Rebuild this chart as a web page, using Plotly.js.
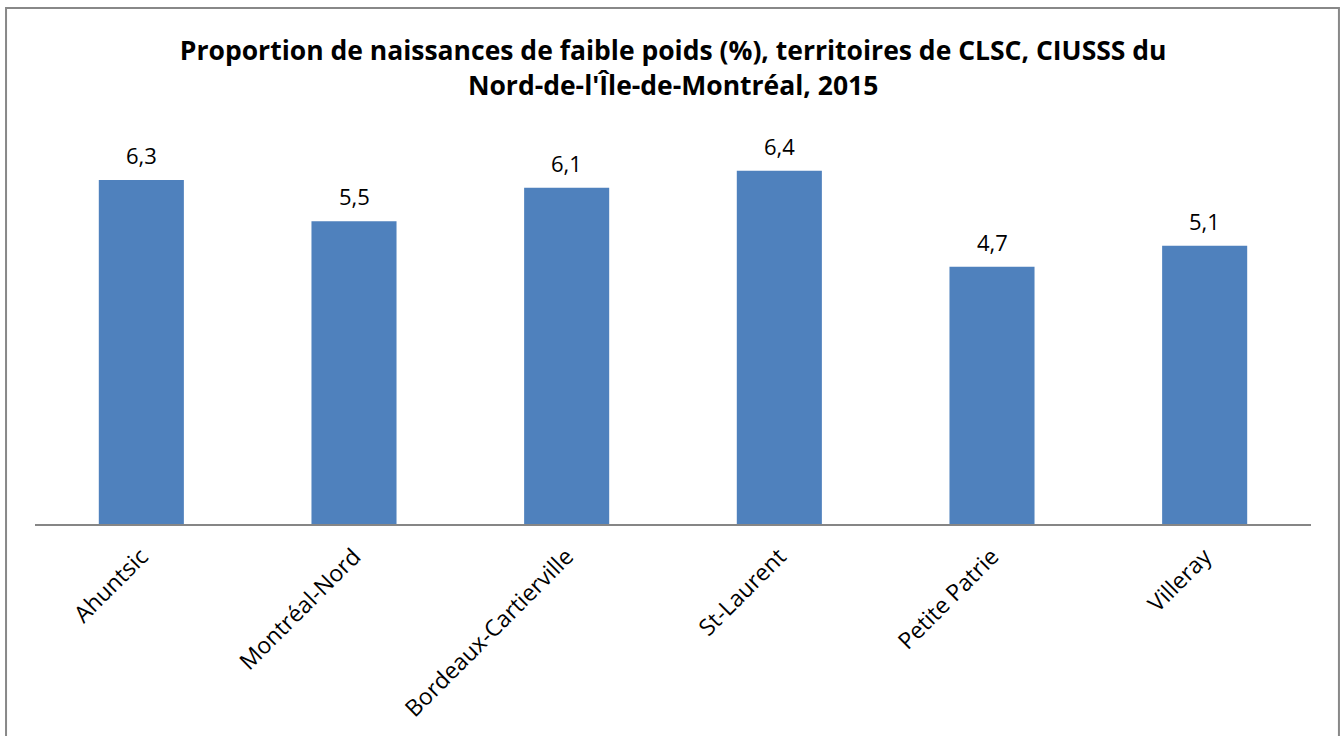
<!DOCTYPE html>
<html>
<head>
<meta charset="utf-8">
<script src="https://cdn.plot.ly/plotly-3.0.1.min.js"></script>
<style>html,body{margin:0;padding:0;background:#fff;}#chart{width:1341px;height:736px;}</style>
</head>
<body>
<div id="chart"></div>
<script>
const categories = ["Ahuntsic", "Montréal-Nord", "Bordeaux-Cartierville", "St-Laurent", "Petite Patrie", "Villeray"];
const values = [6.27, 5.52, 6.13, 6.44, 4.69, 5.07];
const valueLabels = ["6,3", "5,5", "6,1", "6,4", "4,7", "5,1"];
const titleText = "Proportion de naissances de faible poids (%), territoires de CLSC, CIUSSS du<br>Nord-de-l'Île-de-Montréal, 2015";

const FONT = "Open Sans, Calibri, sans-serif";

const trace = {
  type: "bar",
  x: categories,
  y: values,
  marker: {color: "#4F81BD"},
  hoverinfo: "x+y"
};

const annotations = categories.map((c, i) => ({
  x: c,
  y: values[i],
  xref: "x",
  yref: "y",
  text: valueLabels[i],
  showarrow: false,
  xanchor: "center",
  yanchor: "bottom",
  yshift: 8,
  font: {family: FONT, size: 22, color: "#000"}
}));

const layout = {
  width: 1341,
  height: 736,
  paper_bgcolor: "#fff",
  plot_bgcolor: "#fff",
  margin: {l: 35, r: 30, t: 140, b: 212},
  bargap: 0.6,
  title: {
    text: titleText,
    font: {family: FONT, size: 26.5, color: "#000", weight: "bold"},
    x: 0.502,
    xanchor: "center",
    yref: "container",
    y: 0.918,
    yanchor: "top"
  },
  xaxis: {
    type: "category",
    tickangle: -45,
    tickfont: {family: FONT, size: 23, color: "#000"},
    ticklabelstandoff: 8,
    showline: true,
    linecolor: "#868686",
    linewidth: 2,
    ticks: "",
    showgrid: false,
    zeroline: false
  },
  yaxis: {
    range: [0, 7],
    visible: false,
    showgrid: false,
    zeroline: false
  },
  annotations: annotations,
  shapes: [{
    type: "rect",
    xref: "paper", yref: "paper",
    x0: -0.0227, x1: 1.0219,
    y0: -0.57, y1: 1.3438,
    line: {color: "#888888", width: 2},
    fillcolor: "rgba(0,0,0,0)",
    layer: "below"
  }],
  showlegend: false
};

Plotly.newPlot("chart", [trace], layout, {displayModeBar: false});
</script>
</body>
</html>
